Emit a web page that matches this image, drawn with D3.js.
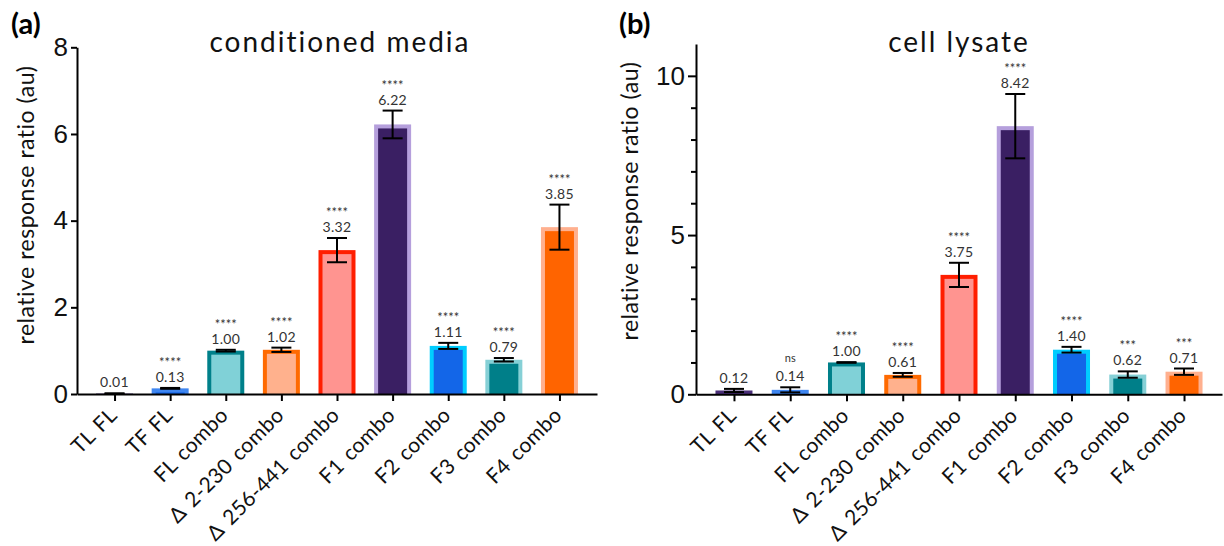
<!DOCTYPE html>
<html>
<head>
<meta charset="utf-8">
<script src="https://cdn.jsdelivr.net/npm/d3@7"></script>
<style>
  body { margin: 0; background: #fff; }
  svg { display: block; font-family: Lato, "Noto Sans", sans-serif; }
</style>
</head>
<body>
<svg id="chart" width="1224" height="546"></svg>
<script>
// categories shared by both panels
var categories = ["TL FL", "TF FL", "FL combo", "\u0394 2-230 combo", "\u0394 256-441 combo",
                  "F1 combo", "F2 combo", "F3 combo", "F4 combo"];

// (a) conditioned media
var mediaMean = [0.01, 0.13, 1.00, 1.02, 3.32, 6.22, 1.11, 0.79, 3.85];
var mediaErr  = [0.005, 0.01, 0.02, 0.05, 0.28, 0.32, 0.07, 0.04, 0.52];
var mediaSig  = ["", "****", "****", "****", "****", "****", "****", "****", "****"];
var mediaTicks = [0, 2, 4, 6, 8];

// (b) cell lysate
var lysateMean = [0.12, 0.14, 1.00, 0.61, 3.75, 8.42, 1.40, 0.62, 0.71];
var lysateErr  = [0.05, 0.08, 0.01, 0.06, 0.38, 1.01, 0.09, 0.10, 0.10];
var lysateSig  = ["", "ns", "****", "****", "****", "****", "****", "***", "***"];
var lysateTicks = [0, 5, 10];
var lysateMinor = [1, 2, 3, 4, 6, 7, 8, 9];

// bar colours, one per category
var fillColors = ["#3b1f66", "#1566e8", "#80d1d7", "#ffb18d", "#ff9490",
                  "#3a1f63", "#1366e8", "#007f89", "#ff6400"];
var edgeColors = ["#4a2e78", "#3f86f0", "#00808a", "#ff6a00", "#ff1e00",
                  "#b59fdc", "#00cdff", "#86d0d6", "#ffb08f"];

var svg = d3.select("#chart");

var barW = 37, edgeW = 4, capW = 20;

function drawPanel(opt) {
  var g = svg.append("g");

  var x = d3.scalePoint()
      .domain(categories)
      .range([opt.left, opt.right])
      .padding(0.675);

  var y = d3.scaleLinear()
      .domain([0, opt.ymax])
      .range([opt.bottom, opt.top]);

  // bars: outer rect is the edge colour, inner rect the fill
  var bars = g.selectAll("g.bar")
      .data(opt.mean)
    .enter().append("g")
      .attr("class", "bar");

  bars.append("rect")
      .attr("x", function(d, i) { return x(categories[i]) - barW / 2; })
      .attr("y", function(d) { return y(d); })
      .attr("width", barW)
      .attr("height", function(d) { return y(0) - y(d); })
      .style("fill", function(d, i) { return edgeColors[i]; });

  bars.append("rect")
      .attr("x", function(d, i) { return x(categories[i]) - barW / 2 + edgeW; })
      .attr("y", function(d) { return Math.min(y(d) + edgeW, y(0)); })
      .attr("width", barW - 2 * edgeW)
      .attr("height", function(d) { return Math.max(0, y(0) - y(d) - edgeW); })
      .style("fill", function(d, i) { return fillColors[i]; });

  // error bars
  var err = g.selectAll("g.err")
      .data(opt.mean)
    .enter().append("g")
      .attr("class", "err")
      .style("stroke", "#000")
      .style("stroke-width", 2);

  err.append("line")
      .attr("x1", function(d, i) { return x(categories[i]); })
      .attr("x2", function(d, i) { return x(categories[i]); })
      .attr("y1", function(d, i) { return y(d + opt.err[i]); })
      .attr("y2", function(d, i) { return y(Math.max(0, d - opt.err[i])); });

  err.append("line")
      .attr("x1", function(d, i) { return x(categories[i]) - capW / 2; })
      .attr("x2", function(d, i) { return x(categories[i]) + capW / 2; })
      .attr("y1", function(d, i) { return y(d + opt.err[i]); })
      .attr("y2", function(d, i) { return y(d + opt.err[i]); });

  err.append("line")
      .attr("x1", function(d, i) { return x(categories[i]) - capW / 2; })
      .attr("x2", function(d, i) { return x(categories[i]) + capW / 2; })
      .attr("y1", function(d, i) { return y(Math.max(0, d - opt.err[i])); })
      .attr("y2", function(d, i) { return y(Math.max(0, d - opt.err[i])); });

  // value labels and significance stars
  g.selectAll("text.val")
      .data(opt.mean)
    .enter().append("text")
      .attr("class", "val")
      .attr("x", function(d, i) { return x(categories[i]); })
      .attr("y", function(d, i) { return y(d + opt.err[i]) - 6; })
      .attr("text-anchor", "middle")
      .style("font-size", "14px")
      .style("letter-spacing", "0.3px")
      .style("fill", "#333")
      .text(function(d) { return d.toFixed(2); });

  g.selectAll("text.sig")
      .data(opt.sig)
    .enter().append("text")
      .attr("class", "sig")
      .attr("x", function(d, i) { return x(categories[i]); })
      .attr("y", function(d, i) {
        return y(opt.mean[i] + opt.err[i]) - (d == "ns" ? 25 : 21); })
      .attr("text-anchor", "middle")
      .style("font-size", function(d) { return d == "ns" ? "11px" : "13px"; })
      .style("fill", "#333")
      .text(function(d) { return d; });

  // y axis
  var yAxis = g.append("g")
      .attr("transform", "translate(" + opt.left + ",0)")
      .call(d3.axisLeft(y).tickValues(opt.ticks).tickSize(opt.tickLen).tickSizeOuter(0).tickPadding(3));

  if (opt.minor) {
    g.append("g")
        .attr("transform", "translate(" + opt.left + ",0)")
        .call(d3.axisLeft(y).tickValues(opt.minor).tickSize(5).tickFormat(""))
        .call(function(a) { a.select(".domain").remove(); })
        .selectAll("line").style("stroke-width", 2);
  }

  // x axis
  var xAxis = g.append("g")
      .attr("transform", "translate(0," + opt.bottom + ")")
      .call(d3.axisBottom(x).tickSize(7).tickSizeOuter(0).tickFormat(""));

  [yAxis, xAxis].forEach(function(a) {
    a.select(".domain").style("stroke-width", 2);
    a.selectAll(".tick line").style("stroke-width", 2);
  });

  yAxis.selectAll("text")
      .style("font-size", "26px")
      .style("fill", "#111")
      .attr("font-family", null);

  // slanted category labels
  g.selectAll("text.cat")
      .data(categories)
    .enter().append("text")
      .attr("class", "cat")
      .attr("transform", function(d) {
        return "translate(" + (x(d) - 7) + "," + (opt.bottom + 12) + ") rotate(-45)"; })
      .attr("text-anchor", "end")
      .attr("dy", "0.72em")
      .style("font-size", "21px")
      .style("letter-spacing", "0.3px")
      .style("word-spacing", "2px")
      .style("fill", "#111")
      .text(function(d) { return d; });

  // y axis label
  svg.append("text")
      .attr("transform", "translate(" + opt.ylabX + "," + opt.ylabY + ") rotate(-90)")
      .attr("text-anchor", "middle")
      .style("font-size", "23px")
      .style("letter-spacing", "0.5px")
      .style("fill", "#111")
      .text("relative response ratio (au)");

  // title
  svg.append("text")
      .attr("x", opt.titleX)
      .attr("y", 52)
      .attr("text-anchor", "middle")
      .style("font-size", "28px")
      .style("letter-spacing", "2px")
      .style("fill", "#111")
      .text(opt.title);

  // panel letter
  svg.append("text")
      .attr("x", opt.letterX)
      .attr("y", 34)
      .style("font-size", "29px")
      .style("font-weight", "bold")
      .style("fill", "#000")
      .text(opt.letter);
}

drawPanel({
  mean: mediaMean, err: mediaErr, sig: mediaSig,
  ticks: mediaTicks, ymax: 8, tickLen: 6,
  left: 77, right: 597, top: 47.3, bottom: 394,
  title: "conditioned media", titleX: 340,
  letter: "(a)", letterX: 11,
  ylabX: 34, ylabY: 205
});

drawPanel({
  mean: lysateMean, err: lysateErr, sig: lysateSig,
  ticks: lysateTicks, minor: lysateMinor, ymax: 11, tickLen: 8,
  left: 696, right: 1222, top: 44, bottom: 394.3,
  title: "cell lysate", titleX: 959,
  letter: "(b)", letterX: 619,
  ylabX: 638, ylabY: 201
});
</script>
</body>
</html>
